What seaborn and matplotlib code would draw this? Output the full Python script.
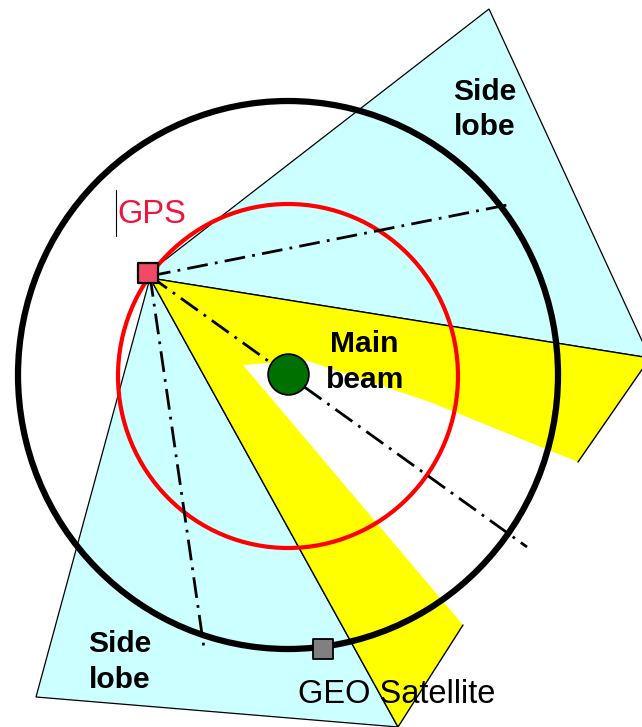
import matplotlib
matplotlib.use("Agg")
import matplotlib.pyplot as plt
import seaborn as sns
import pandas as pd
from matplotlib.patches import Polygon, Ellipse

sns.set_theme(style="white")
plt.rcParams['font.family'] = ['Liberation Sans', 'DejaVu Sans']

# ---- data (pixel-style coordinate frame, y pointing down) ----
gps_x, gps_y = [147.5], [273.0]
geo_x, geo_y = [322.5], [648.5]
target_x, target_y = [287.5], [374.0]

orbit_cx, orbit_cy, orbit_w, orbit_h = 288.0, 375.0, 540.0, 548.0
cover_cx, cover_cy, cover_w, cover_h = 288.0, 376.0, 340.0, 344.0

ray_start = (150.0, 276.0)
ray_end_x = [512.0, 527.0, 204.0]
ray_end_y = [204.0, 547.0, 648.0]

side_lobe_upper = [(152, 270), (489, 9), (650, 358), (150, 278)]
side_lobe_lower = [(150, 278), (36, 697), (398, 727)]
main_beam = [(150, 278), (650, 358), (578, 462), (430, 402), (305, 360),
             (243, 365), (463, 625), (398, 727)]
main_beam_edges = [[(150, 278), (650, 358), (578, 462)],
                   [(463, 625), (398, 727)],
                   [(150, 278), (398, 727)]]

labels = ["Side\nlobe", "Main\nbeam", "Side\nlobe", "GPS", "GEO Satellite"]

# ---- figure ----
fig = plt.figure(figsize=(6.42, 7.27), dpi=100)
ax = fig.add_axes([0, 0, 1, 1])

cyan = "#CCFFFF"
yellow = "#FFFF00"

for poly in (side_lobe_upper, side_lobe_lower):
    ax.add_patch(Polygon(poly, closed=True, facecolor=cyan, edgecolor="black",
                         linewidth=0.9, zorder=1))
ax.add_patch(Polygon(main_beam, closed=True, facecolor=yellow, edgecolor="none",
                     zorder=2))
for edge in main_beam_edges:
    xs, ys = zip(*edge)
    ax.plot(xs, ys, color="black", linewidth=1.0, zorder=3)

ax.add_patch(Ellipse((cover_cx, cover_cy), cover_w, cover_h, facecolor="none",
                     edgecolor="#FF0000", linewidth=3.0, zorder=4))
ax.add_patch(Ellipse((orbit_cx, orbit_cy), orbit_w, orbit_h, facecolor="none",
                     edgecolor="black", linewidth=4.5, zorder=4))

# dash-dot rays
for ex, ey in zip(ray_end_x, ray_end_y):
    df = pd.DataFrame({"x": [ray_start[0], ex], "y": [ray_start[1], ey]})
    sns.lineplot(data=df, x="x", y="y", sort=False, estimator=None, ax=ax,
                 color="black", linewidth=2.0,
                 linestyle=(0, (7.5, 2.6, 1.0, 2.6)), zorder=5)

# markers
sns.scatterplot(x=target_x, y=target_y, ax=ax, marker="o", s=860,
                color="#007000", edgecolor="black", linewidth=1.3, zorder=6)
sns.scatterplot(x=gps_x, y=gps_y, ax=ax, marker="s", s=215,
                color="#F24A66", edgecolor="black", linewidth=1.6, zorder=7)
sns.scatterplot(x=geo_x, y=geo_y, ax=ax, marker="s", s=215,
                color="#808080", edgecolor="black", linewidth=1.3, zorder=7)

ax.set_xlim(0, 642)
ax.set_ylim(727, 0)
ax.set_axis_off()

bold = dict(fontsize=21.6, fontweight="bold", color="black", ha="center",
            va="baseline", zorder=8)
# upper side lobe
ax.text(485, 100, labels[0].split("\n")[0], **bold)
ax.text(485, 135, labels[0].split("\n")[1], **bold)
# main beam
ax.text(364, 352, labels[1].split("\n")[0], **bold)
ax.text(365, 388, labels[1].split("\n")[1], **bold)
# lower side lobe
ax.text(120, 652, labels[2].split("\n")[0], **bold)
ax.text(120, 688, labels[2].split("\n")[1], **bold)
# GPS
ax.text(117, 223, labels[3], fontsize=23.5, color="#F0143C", ha="left",
        va="baseline", zorder=8)
ax.plot([115.5, 115.5], [190, 236], color="black", linewidth=0.8, zorder=8)
# GEO satellite
ax.text(298, 703, labels[4], fontsize=23.5, color="black", ha="left",
        va="baseline", zorder=8)

fig.savefig("out.png", dpi=100)
